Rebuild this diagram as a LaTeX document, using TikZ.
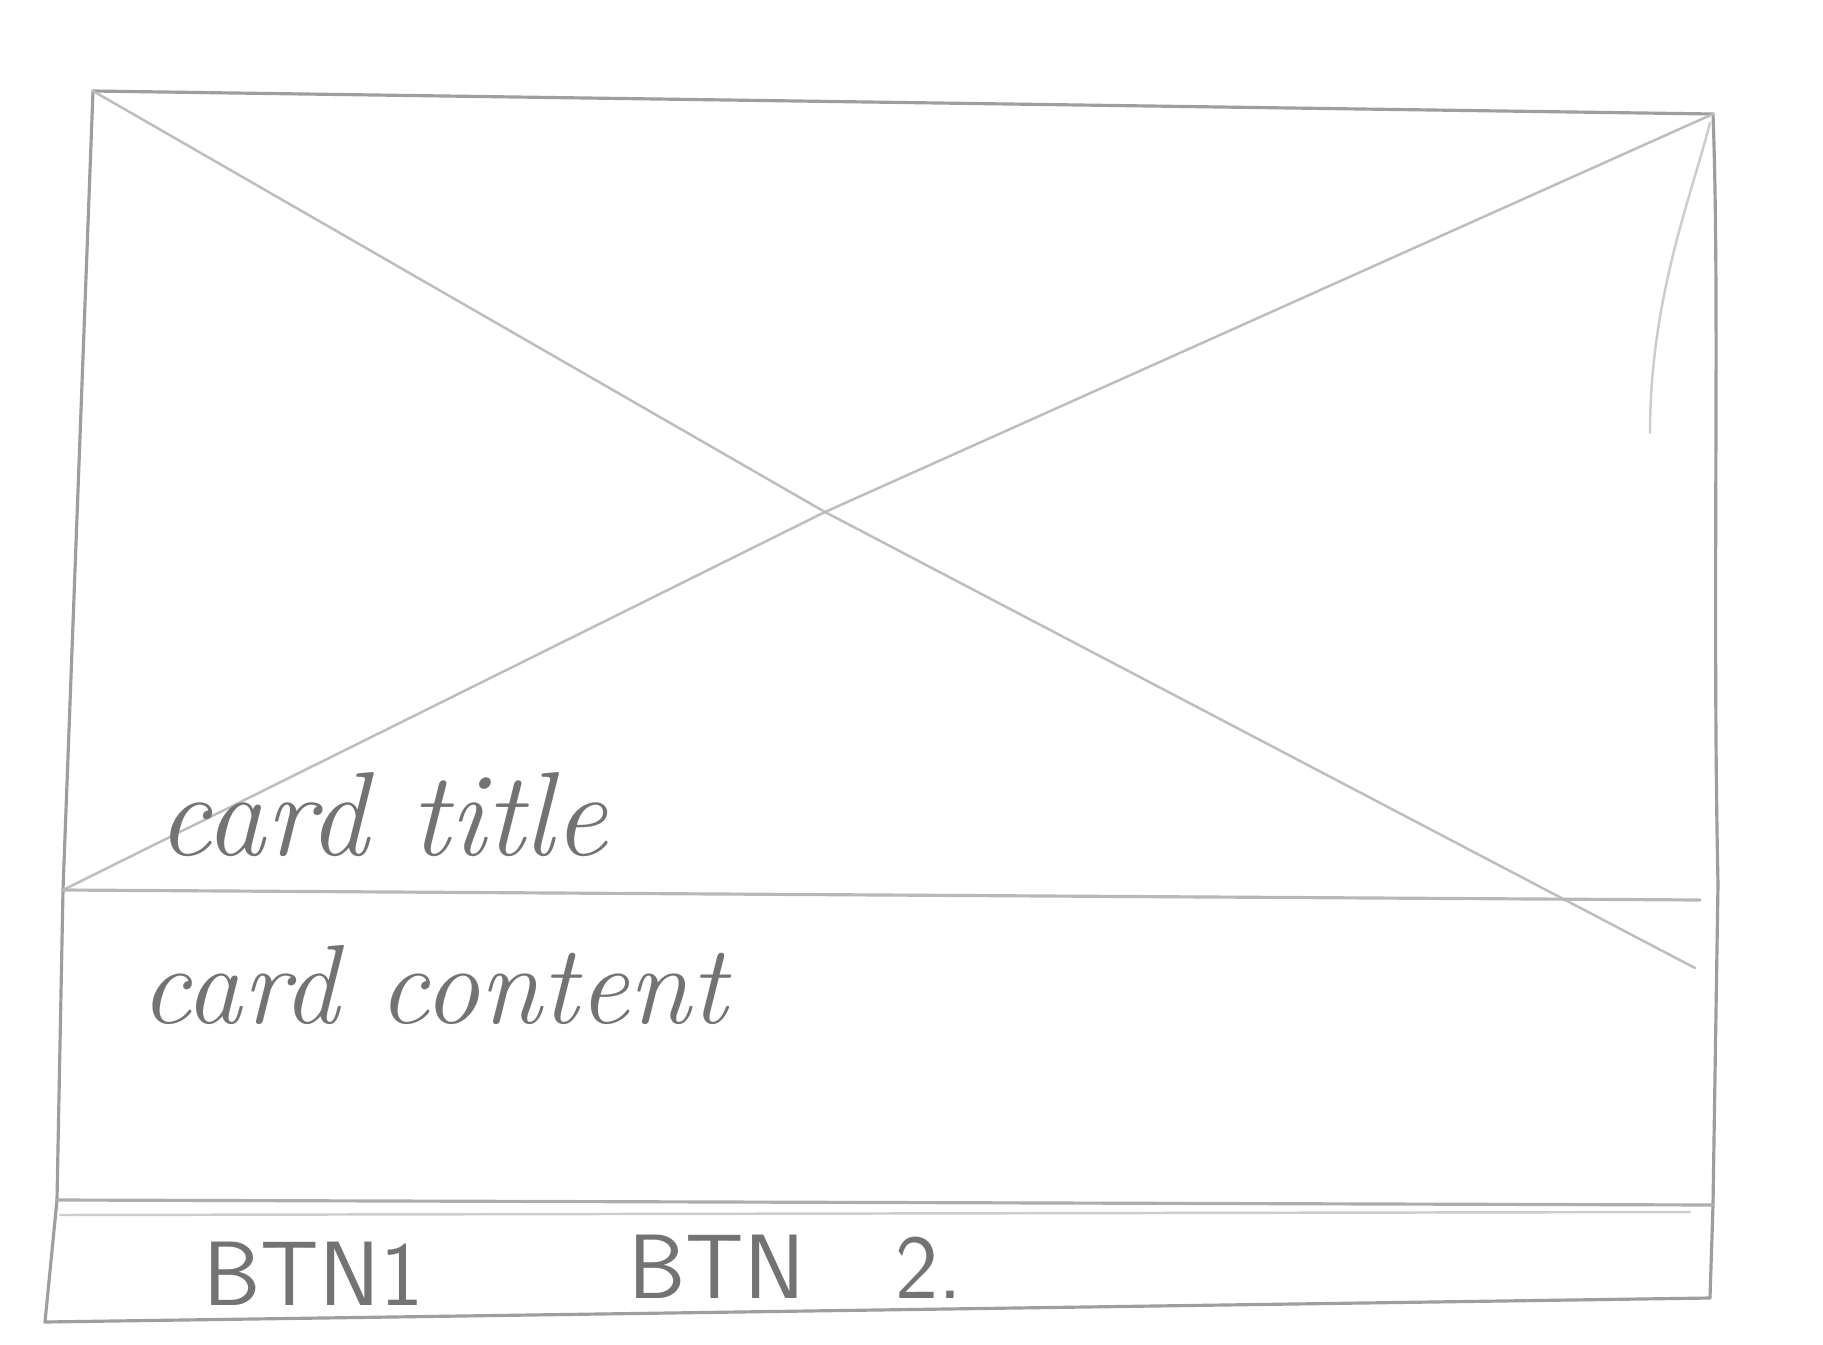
\documentclass[tikz,border=0pt]{standalone}
\begin{document}
\begin{tikzpicture}[x=0.01cm,y=-0.01cm,
  pencil/.style={draw=black!38,line width=0.9pt,line cap=round,line join=round},
  faint/.style={draw=black!20,line width=0.7pt,line cap=round,line join=round},
  hand/.style={text=black!55,inner sep=0pt,anchor=base west},
]
\useasboundingbox[fill=white] (0,0) rectangle (1823,1345);
% corners
\coordinate (tl) at (93,91);
\coordinate (tr) at (1713,114);
\coordinate (ml) at (63,890);
\coordinate (mr) at (1718,884);
\coordinate (dl) at (57,1200);
\coordinate (dr) at (1713,1205);
\coordinate (bl) at (45,1322);
\coordinate (br) at (1710,1298);
\coordinate (x1) at (1695,968);
\coordinate (cx) at (825,512);
\coordinate (imgr) at (1700,900);
\coordinate (d2l) at (60,1215);
\coordinate (d2r) at (1690,1212);
\coordinate (sk1) at (1710,123);
\coordinate (sk2) at (1650,433);
% outline
\draw[pencil] (tl) -- (tr);
\draw[pencil] (tl) -- (ml) -- (dl) -- (bl) -- (br);
\draw[pencil] (tr) .. controls (1720,300) and (1712,600) .. (mr) -- (dr) -- (br);
\draw[faint] (sk1) .. controls (1690,200) and (1650,300) .. (sk2);
% image placeholder
\draw[faint,draw=black!26] (tl) -- (cx) -- (x1);
\draw[faint,draw=black!26] (tr) -- (cx) -- (ml);
\draw[pencil,draw=black!28] (ml) -- (imgr);
% dividers
\draw[pencil,draw=black!32] (dl) -- (dr);
\draw[faint] (d2l) -- (d2r);
% texts
\node[hand,font=\fontsize{34}{36}\selectfont\itshape] (title) at (157,855) {card title};
\node[hand,font=\fontsize{32}{34}\selectfont\itshape] (content) at (140,1023) {card content};
\node[hand,font=\fontsize{26}{28}\selectfont\sffamily] (btn1) at (203,1305) {BTN1};
\node[hand,font=\fontsize{26}{28}\selectfont\sffamily] (btn2) at (628,1298) {BTN\hspace{0.9cm}2.};
\end{tikzpicture}
\end{document}
